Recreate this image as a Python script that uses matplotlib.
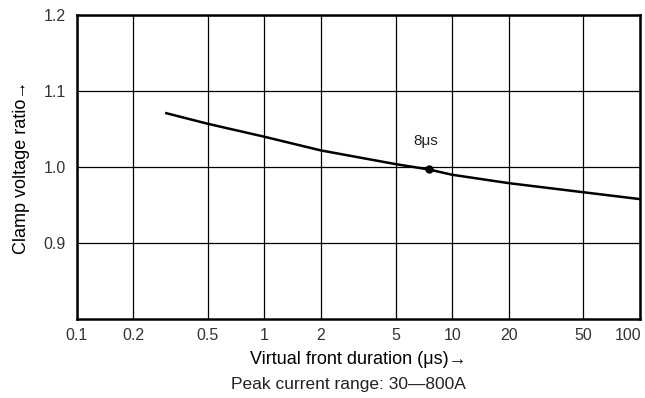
import matplotlib
matplotlib.use('Agg')
import matplotlib.pyplot as plt
import matplotlib.transforms as mtransforms

plt.rcParams['font.family'] = ['Liberation Sans', 'DejaVu Sans']

# front duration (us) vs clamp voltage ratio
duration = [0.3, 0.5, 1, 2, 5, 7.5, 10, 20, 50, 100]
ratio = [1.071, 1.057, 1.040, 1.022, 1.004, 0.997, 0.990, 0.979, 0.967, 0.958]

marker_x = 7.5
marker_y = 0.997

xticks = [0.1, 0.2, 0.5, 1, 2, 5, 10, 20, 50, 100]
xlabels = ['0.1', '0.2', '0.5', '1', '2', '5', '10', '20', '50', '100']
yticks = [0.9, 1.0, 1.1, 1.2]
ylabels = ['0.9', '1.0', '1.1', '1.2']

fig = plt.figure(figsize=(6.45, 3.98), dpi=100)
ax = fig.add_axes([0.119, 0.198, 0.873, 0.764])

ax.set_xscale('log')
ax.set_xlim(0.1, 100)
ax.set_ylim(0.8, 1.2)

ax.set_xticks(xticks)
ax.set_xticklabels(xlabels)
ax.set_yticks(yticks)
ax.set_yticklabels(ylabels)
ax.minorticks_off()
ax.tick_params(length=0, labelsize=11.5, colors='#333333')
ax.tick_params(axis='x', pad=6)
ax.tick_params(axis='y', pad=8)
# last label sits against the right edge of the figure
last = ax.get_xticklabels()[-1]
last.set_horizontalalignment('right')
last.set_transform(last.get_transform()
                   + mtransforms.ScaledTranslation(1 / 72, 0, fig.dpi_scale_trans))

ax.grid(True, color='black', linewidth=0.9)
for s in ax.spines.values():
    s.set_linewidth(1.8)

ax.plot(duration, ratio, color='black', linewidth=1.8)
ax.plot(marker_x, marker_y, 'o', color='black', markersize=5)
ax.text(marker_x * 0.97, 1.035, '8\u03bcs', fontsize=11, ha='center', va='center',
        color='#222222')

ax.set_ylabel('Clamp voltage ratio\u2192', fontsize=13, labelpad=10)
ax.set_xlabel('Virtual front duration (\u03bcs)\u2192', fontsize=13, labelpad=6)
fig.text(0.54, 0.035, 'Peak current range: 30\u2014800A', fontsize=12.5,
         ha='center', va='center', color='#222222')

fig.savefig('out.png', dpi=100)
